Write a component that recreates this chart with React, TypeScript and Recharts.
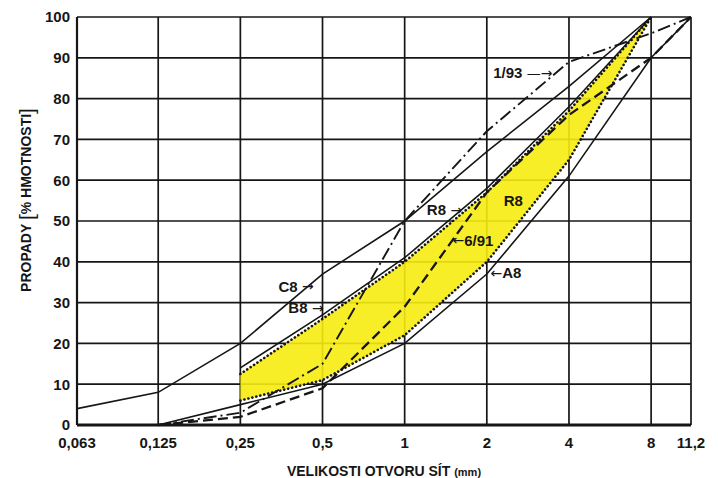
import React from 'react';
import {
  ComposedChart,
  Line,
  Area,
  XAxis,
  YAxis,
  CartesianGrid,
  ReferenceDot,
} from 'recharts';

// sieve openings (mm) and their printed labels
const SIEVES = [0.063, 0.125, 0.25, 0.5, 1, 2, 4, 8, 11.2];
const SIEVE_LABELS = ['0,063', '0,125', '0,25', '0,5', '1', '2', '4', '8', '11,2'];
const Y_TICKS = [0, 10, 20, 30, 40, 50, 60, 70, 80, 90, 100];

// passing [% by mass], one entry per sieve (null = curve not drawn there)
const A8 = [null, 0, 5, 10, 20, 37, 61, 90, 100];
const B8 = [null, null, 14, 27, 41, 58, 78, 100, null];
const C8 = [4, 8, 20, 37, 50, 67, 83, 100, null];
const R8_UPPER = [null, null, 12.5, 26, 40, 57, 77, 100, null];
const R8_LOWER = [null, null, 6, 11, 22, 40, 65, 100, null];
const S_1_93 = [null, 0, 3, 15, 50, 72, 89, 96, 100];
const S_6_91 = [null, 0, 2, 9, 29, 57, 76, 90, 100];

// curve annotations: [text before arrow, arrow, text after arrow, sieve, passing]
const NOTES: [string, string, string, number, number][] = [
  ['C8', '→', '', 0.4, 34],
  ['B8', '→', '', 0.435, 28.7],
  ['R8', '→', '', 1.4, 52.7],
  ['R8', '', '', 2.5, 55],
  ['', '←', '6/91', 1.78, 45.3],
  ['', '←', 'A8', 2.35, 37.3],
  ['1/93', '—→', '', 2.71, 86.3],
];

const data = SIEVES.map((s, i) => ({
  size: s,
  a8: A8[i],
  b8: B8[i],
  c8: C8[i],
  hi: R8_UPPER[i],
  lo: R8_LOWER[i],
  s193: S_1_93[i],
  s691: S_6_91[i],
}));

const INK = '#161616';
const FONT = '"Liberation Sans", Arial, sans-serif';
const ARROW_FONT = '"DejaVu Sans", sans-serif';

const XTitle = (props: any) => {
  const { viewBox } = props;
  const cx = viewBox.x + viewBox.width / 2;
  return (
    <text x={cx} y={viewBox.y + 51} textAnchor="middle" fill={INK} fontFamily={FONT} fontWeight="bold" fontSize={14}>
      VELIKOSTI OTVORU SÍT <tspan fontSize={11}>(mm)</tspan>
    </text>
  );
};

const YTitle = (props: any) => {
  const { viewBox } = props;
  const cx = viewBox.x + 26;
  const cy = viewBox.y + viewBox.height / 2 - 21;
  return (
    <text
      x={cx}
      y={cy}
      transform={`rotate(-90, ${cx}, ${cy})`}
      textAnchor="middle"
      dominantBaseline="central"
      fill={INK}
      fontFamily={FONT}
      fontWeight="bold"
      fontSize={14}
    >
      PROPADY <tspan fontSize={21} fontWeight="normal">[</tspan>% HMOTNOSTI<tspan fontSize={21} fontWeight="normal">]</tspan>
    </text>
  );
};

const NoteLabel = (props: any) => {
  const { viewBox, pre, arrow, post } = props;
  const cx = viewBox.x + (viewBox.width || 0) / 2;
  const cy = viewBox.y + (viewBox.height || 0) / 2;
  return (
    <text
      x={cx}
      y={cy}
      textAnchor="middle"
      dominantBaseline="central"
      fill={INK}
      fontFamily={FONT}
      fontWeight="bold"
      fontSize={15}
    >
      {pre}
      {arrow && (
        <tspan fontFamily={ARROW_FONT} fontWeight="normal" fontSize={14}>
          {pre ? ' ' : ''}
          {arrow}
        </tspan>
      )}
      {post}
    </text>
  );
};

export default function App() {
  return (
    <div style={{ position: 'absolute', left: 0, top: 0, background: '#fff' }}>
      <ComposedChart
        width={718}
        height={478}
        data={data}
        margin={{ top: 17, right: 27, bottom: 13, left: 0 }}
      >
        <CartesianGrid stroke={INK} strokeWidth={1.7} ticks={SIEVES as any} />
        <Area
          dataKey={(d: any) => (d.lo == null ? null : [d.lo, d.hi])}
          stroke="none"
          fill="#f7ec10"
          fillOpacity={0.9}
          isAnimationActive={false}
          connectNulls={false}
        />
        <XAxis
          dataKey="size"
          type="number"
          scale="log"
          domain={[0.063, 11.2]}
          ticks={SIEVES}
          tickFormatter={(v: number) => SIEVE_LABELS[SIEVES.indexOf(v)] ?? String(v)}
          interval={0}
          tickLine={false}
          tickSize={0}
          tickMargin={12}
          height={40}
          axisLine={{ stroke: INK, strokeWidth: 3 }}
          tick={{ fill: INK, fontSize: 15, fontWeight: 'bold', fontFamily: FONT }}
          label={<XTitle />}
          allowDataOverflow
        />
        <YAxis
          type="number"
          domain={[0, 100]}
          ticks={Y_TICKS}
          interval={0}
          width={77}
          tickLine={false}
          tickSize={0}
          tickMargin={7}
          axisLine={{ stroke: INK, strokeWidth: 2.2 }}
          tick={{ fill: INK, fontSize: 15, fontWeight: 'bold', fontFamily: FONT }}
          label={<YTitle />}
        />
        <Line dataKey="c8" stroke={INK} strokeWidth={1.6} dot={false} isAnimationActive={false} />
        <Line dataKey="b8" stroke={INK} strokeWidth={1.6} dot={false} isAnimationActive={false} />
        <Line dataKey="a8" stroke={INK} strokeWidth={1.6} dot={false} isAnimationActive={false} />
        <Line
          dataKey="hi"
          stroke={INK}
          strokeWidth={2.6}
          strokeDasharray="0.1 4"
          strokeLinecap="round"
          dot={false}
          isAnimationActive={false}
        />
        <Line
          dataKey="lo"
          stroke={INK}
          strokeWidth={2.6}
          strokeDasharray="0.1 4"
          strokeLinecap="round"
          dot={false}
          isAnimationActive={false}
        />
        <Line
          dataKey="s193"
          stroke={INK}
          strokeWidth={1.9}
          strokeDasharray="13 4 2 4"
          dot={false}
          isAnimationActive={false}
        />
        <Line
          dataKey="s691"
          stroke={INK}
          strokeWidth={2.3}
          strokeDasharray="10 5"
          dot={false}
          isAnimationActive={false}
        />
        {NOTES.map(([pre, arrow, post, x, y], i) => (
          <ReferenceDot
            key={i}
            x={x}
            y={y}
            r={0}
            fill="none"
            stroke="none"
            ifOverflow="visible"
            label={<NoteLabel pre={pre} arrow={arrow} post={post} />}
          />
        ))}
      </ComposedChart>
    </div>
  );
}
